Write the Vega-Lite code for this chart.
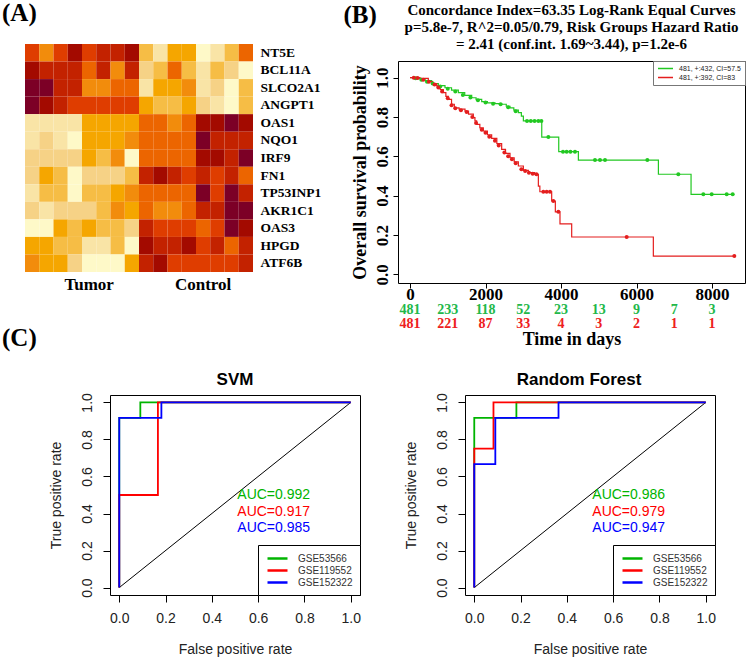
{
"$schema":"https://vega.github.io/schema/vega-lite/v6.json",
"padding":{"left":2,"top":0,"right":0,"bottom":0},
"background":"white",
"config":{"view":{"stroke":null},"axis":{"grid":false,"domain":false,"labelColor":"black","titleColor":"black","tickColor":"black","labelOverlap":false},"title":{"color":"black"}},
"datasets":{
"heat":[
{"gene":"NT5E","col":"T1","v":4},{"gene":"NT5E","col":"T2","v":6},{"gene":"NT5E","col":"T3","v":4},{"gene":"NT5E","col":"T4","v":2},{"gene":"NT5E","col":"T5","v":4},{"gene":"NT5E","col":"T6","v":3},{"gene":"NT5E","col":"T7","v":3},{"gene":"NT5E","col":"T8","v":2},{"gene":"NT5E","col":"C1","v":8},{"gene":"NT5E","col":"C2","v":10},{"gene":"NT5E","col":"C3","v":7},{"gene":"NT5E","col":"C4","v":7},{"gene":"NT5E","col":"C5","v":11},{"gene":"NT5E","col":"C6","v":10},{"gene":"NT5E","col":"C7","v":8},{"gene":"NT5E","col":"C8","v":5},
{"gene":"BCL11A","col":"T1","v":2},{"gene":"BCL11A","col":"T2","v":3},{"gene":"BCL11A","col":"T3","v":3},{"gene":"BCL11A","col":"T4","v":3},{"gene":"BCL11A","col":"T5","v":5},{"gene":"BCL11A","col":"T6","v":3},{"gene":"BCL11A","col":"T7","v":6},{"gene":"BCL11A","col":"T8","v":3},{"gene":"BCL11A","col":"C1","v":9},{"gene":"BCL11A","col":"C2","v":8},{"gene":"BCL11A","col":"C3","v":5},{"gene":"BCL11A","col":"C4","v":8},{"gene":"BCL11A","col":"C5","v":10},{"gene":"BCL11A","col":"C6","v":8},{"gene":"BCL11A","col":"C7","v":9},{"gene":"BCL11A","col":"C8","v":11},
{"gene":"SLCO2A1","col":"T1","v":1},{"gene":"SLCO2A1","col":"T2","v":1},{"gene":"SLCO2A1","col":"T3","v":3},{"gene":"SLCO2A1","col":"T4","v":3},{"gene":"SLCO2A1","col":"T5","v":6},{"gene":"SLCO2A1","col":"T6","v":6},{"gene":"SLCO2A1","col":"T7","v":5},{"gene":"SLCO2A1","col":"T8","v":5},{"gene":"SLCO2A1","col":"C1","v":10},{"gene":"SLCO2A1","col":"C2","v":7},{"gene":"SLCO2A1","col":"C3","v":7},{"gene":"SLCO2A1","col":"C4","v":6},{"gene":"SLCO2A1","col":"C5","v":10},{"gene":"SLCO2A1","col":"C6","v":9},{"gene":"SLCO2A1","col":"C7","v":11},{"gene":"SLCO2A1","col":"C8","v":8},
{"gene":"ANGPT1","col":"T1","v":1},{"gene":"ANGPT1","col":"T2","v":2},{"gene":"ANGPT1","col":"T3","v":3},{"gene":"ANGPT1","col":"T4","v":4},{"gene":"ANGPT1","col":"T5","v":4},{"gene":"ANGPT1","col":"T6","v":4},{"gene":"ANGPT1","col":"T7","v":4},{"gene":"ANGPT1","col":"T8","v":4},{"gene":"ANGPT1","col":"C1","v":7},{"gene":"ANGPT1","col":"C2","v":8},{"gene":"ANGPT1","col":"C3","v":8},{"gene":"ANGPT1","col":"C4","v":7},{"gene":"ANGPT1","col":"C5","v":9},{"gene":"ANGPT1","col":"C6","v":10},{"gene":"ANGPT1","col":"C7","v":11},{"gene":"ANGPT1","col":"C8","v":8},
{"gene":"OAS1","col":"T1","v":10},{"gene":"OAS1","col":"T2","v":10},{"gene":"OAS1","col":"T3","v":10},{"gene":"OAS1","col":"T4","v":10},{"gene":"OAS1","col":"T5","v":7},{"gene":"OAS1","col":"T6","v":7},{"gene":"OAS1","col":"T7","v":7},{"gene":"OAS1","col":"T8","v":7},{"gene":"OAS1","col":"C1","v":5},{"gene":"OAS1","col":"C2","v":5},{"gene":"OAS1","col":"C3","v":6},{"gene":"OAS1","col":"C4","v":5},{"gene":"OAS1","col":"C5","v":2},{"gene":"OAS1","col":"C6","v":2},{"gene":"OAS1","col":"C7","v":1},{"gene":"OAS1","col":"C8","v":2},
{"gene":"NQO1","col":"T1","v":10},{"gene":"NQO1","col":"T2","v":9},{"gene":"NQO1","col":"T3","v":10},{"gene":"NQO1","col":"T4","v":11},{"gene":"NQO1","col":"T5","v":7},{"gene":"NQO1","col":"T6","v":7},{"gene":"NQO1","col":"T7","v":7},{"gene":"NQO1","col":"T8","v":6},{"gene":"NQO1","col":"C1","v":5},{"gene":"NQO1","col":"C2","v":5},{"gene":"NQO1","col":"C3","v":5},{"gene":"NQO1","col":"C4","v":5},{"gene":"NQO1","col":"C5","v":1},{"gene":"NQO1","col":"C6","v":3},{"gene":"NQO1","col":"C7","v":3},{"gene":"NQO1","col":"C8","v":3},
{"gene":"IRF9","col":"T1","v":9},{"gene":"IRF9","col":"T2","v":9},{"gene":"IRF9","col":"T3","v":9},{"gene":"IRF9","col":"T4","v":9},{"gene":"IRF9","col":"T5","v":7},{"gene":"IRF9","col":"T6","v":8},{"gene":"IRF9","col":"T7","v":6},{"gene":"IRF9","col":"T8","v":11},{"gene":"IRF9","col":"C1","v":5},{"gene":"IRF9","col":"C2","v":5},{"gene":"IRF9","col":"C3","v":5},{"gene":"IRF9","col":"C4","v":5},{"gene":"IRF9","col":"C5","v":2},{"gene":"IRF9","col":"C6","v":2},{"gene":"IRF9","col":"C7","v":3},{"gene":"IRF9","col":"C8","v":1},
{"gene":"FN1","col":"T1","v":9},{"gene":"FN1","col":"T2","v":7},{"gene":"FN1","col":"T3","v":8},{"gene":"FN1","col":"T4","v":11},{"gene":"FN1","col":"T5","v":9},{"gene":"FN1","col":"T6","v":9},{"gene":"FN1","col":"T7","v":9},{"gene":"FN1","col":"T8","v":8},{"gene":"FN1","col":"C1","v":3},{"gene":"FN1","col":"C2","v":2},{"gene":"FN1","col":"C3","v":3},{"gene":"FN1","col":"C4","v":4},{"gene":"FN1","col":"C5","v":3},{"gene":"FN1","col":"C6","v":4},{"gene":"FN1","col":"C7","v":3},{"gene":"FN1","col":"C8","v":5},
{"gene":"TP53INP1","col":"T1","v":10},{"gene":"TP53INP1","col":"T2","v":8},{"gene":"TP53INP1","col":"T3","v":8},{"gene":"TP53INP1","col":"T4","v":11},{"gene":"TP53INP1","col":"T5","v":8},{"gene":"TP53INP1","col":"T6","v":8},{"gene":"TP53INP1","col":"T7","v":7},{"gene":"TP53INP1","col":"T8","v":6},{"gene":"TP53INP1","col":"C1","v":5},{"gene":"TP53INP1","col":"C2","v":5},{"gene":"TP53INP1","col":"C3","v":5},{"gene":"TP53INP1","col":"C4","v":5},{"gene":"TP53INP1","col":"C5","v":1},{"gene":"TP53INP1","col":"C6","v":4},{"gene":"TP53INP1","col":"C7","v":1},{"gene":"TP53INP1","col":"C8","v":3},
{"gene":"AKR1C1","col":"T1","v":9},{"gene":"AKR1C1","col":"T2","v":10},{"gene":"AKR1C1","col":"T3","v":9},{"gene":"AKR1C1","col":"T4","v":9},{"gene":"AKR1C1","col":"T5","v":9},{"gene":"AKR1C1","col":"T6","v":8},{"gene":"AKR1C1","col":"T7","v":6},{"gene":"AKR1C1","col":"T8","v":7},{"gene":"AKR1C1","col":"C1","v":5},{"gene":"AKR1C1","col":"C2","v":6},{"gene":"AKR1C1","col":"C3","v":6},{"gene":"AKR1C1","col":"C4","v":5},{"gene":"AKR1C1","col":"C5","v":3},{"gene":"AKR1C1","col":"C6","v":3},{"gene":"AKR1C1","col":"C7","v":1},{"gene":"AKR1C1","col":"C8","v":1},
{"gene":"OAS3","col":"T1","v":11},{"gene":"OAS3","col":"T2","v":11},{"gene":"OAS3","col":"T3","v":7},{"gene":"OAS3","col":"T4","v":8},{"gene":"OAS3","col":"T5","v":7},{"gene":"OAS3","col":"T6","v":8},{"gene":"OAS3","col":"T7","v":8},{"gene":"OAS3","col":"T8","v":9},{"gene":"OAS3","col":"C1","v":3},{"gene":"OAS3","col":"C2","v":4},{"gene":"OAS3","col":"C3","v":4},{"gene":"OAS3","col":"C4","v":4},{"gene":"OAS3","col":"C5","v":5},{"gene":"OAS3","col":"C6","v":4},{"gene":"OAS3","col":"C7","v":1},{"gene":"OAS3","col":"C8","v":2},
{"gene":"HPGD","col":"T1","v":7},{"gene":"HPGD","col":"T2","v":7},{"gene":"HPGD","col":"T3","v":8},{"gene":"HPGD","col":"T4","v":8},{"gene":"HPGD","col":"T5","v":10},{"gene":"HPGD","col":"T6","v":10},{"gene":"HPGD","col":"T7","v":8},{"gene":"HPGD","col":"T8","v":11},{"gene":"HPGD","col":"C1","v":2},{"gene":"HPGD","col":"C2","v":3},{"gene":"HPGD","col":"C3","v":3},{"gene":"HPGD","col":"C4","v":2},{"gene":"HPGD","col":"C5","v":4},{"gene":"HPGD","col":"C6","v":3},{"gene":"HPGD","col":"C7","v":5},{"gene":"HPGD","col":"C8","v":3},
{"gene":"ATF6B","col":"T1","v":6},{"gene":"ATF6B","col":"T2","v":7},{"gene":"ATF6B","col":"T3","v":7},{"gene":"ATF6B","col":"T4","v":9},{"gene":"ATF6B","col":"T5","v":11},{"gene":"ATF6B","col":"T6","v":11},{"gene":"ATF6B","col":"T7","v":11},{"gene":"ATF6B","col":"T8","v":7},{"gene":"ATF6B","col":"C1","v":3},{"gene":"ATF6B","col":"C2","v":2},{"gene":"ATF6B","col":"C3","v":4},{"gene":"ATF6B","col":"C4","v":4},{"gene":"ATF6B","col":"C5","v":4},{"gene":"ATF6B","col":"C6","v":4},{"gene":"ATF6B","col":"C7","v":4},{"gene":"ATF6B","col":"C8","v":3}
],
"km":[
{"grp":"481, +:432, CI=57.5","t":0,"s":1.0},{"grp":"481, +:432, CI=57.5","t":200,"s":0.995},{"grp":"481, +:432, CI=57.5","t":400,"s":0.985},{"grp":"481, +:432, CI=57.5","t":574,"s":0.97},{"grp":"481, +:432, CI=57.5","t":750,"s":0.96},{"grp":"481, +:432, CI=57.5","t":927,"s":0.949},{"grp":"481, +:432, CI=57.5","t":1100,"s":0.937},{"grp":"481, +:432, CI=57.5","t":1280,"s":0.924},{"grp":"481, +:432, CI=57.5","t":1450,"s":0.91},{"grp":"481, +:432, CI=57.5","t":1634,"s":0.898},{"grp":"481, +:432, CI=57.5","t":1750,"s":0.89},{"grp":"481, +:432, CI=57.5","t":1899,"s":0.878},{"grp":"481, +:432, CI=57.5","t":2050,"s":0.872},{"grp":"481, +:432, CI=57.5","t":2252,"s":0.868},{"grp":"481, +:432, CI=57.5","t":2428,"s":0.865},{"grp":"481, +:432, CI=57.5","t":2550,"s":0.855},{"grp":"481, +:432, CI=57.5","t":2649,"s":0.847},{"grp":"481, +:432, CI=57.5","t":2750,"s":0.835},{"grp":"481, +:432, CI=57.5","t":2870,"s":0.822},{"grp":"481, +:432, CI=57.5","t":2950,"s":0.805},{"grp":"481, +:432, CI=57.5","t":3003,"s":0.78},{"grp":"481, +:432, CI=57.5","t":3490,"s":0.698},{"grp":"481, +:432, CI=57.5","t":3940,"s":0.624},{"grp":"481, +:432, CI=57.5","t":4460,"s":0.581},{"grp":"481, +:432, CI=57.5","t":6580,"s":0.509},{"grp":"481, +:432, CI=57.5","t":7445,"s":0.407},{"grp":"481, +:432, CI=57.5","t":8565,"s":0.407},
{"grp":"481, +:392, CI=83","t":0,"s":1.0},{"grp":"481, +:392, CI=83","t":265,"s":0.997},{"grp":"481, +:392, CI=83","t":485,"s":0.98},{"grp":"481, +:392, CI=83","t":600,"s":0.97},{"grp":"481, +:392, CI=83","t":706,"s":0.958},{"grp":"481, +:392, CI=83","t":800,"s":0.94},{"grp":"481, +:392, CI=83","t":883,"s":0.924},{"grp":"481, +:392, CI=83","t":950,"s":0.905},{"grp":"481, +:392, CI=83","t":1015,"s":0.89},{"grp":"481, +:392, CI=83","t":1100,"s":0.865},{"grp":"481, +:392, CI=83","t":1174,"s":0.847},{"grp":"481, +:392, CI=83","t":1300,"s":0.84},{"grp":"481, +:392, CI=83","t":1457,"s":0.83},{"grp":"481, +:392, CI=83","t":1550,"s":0.815},{"grp":"481, +:392, CI=83","t":1677,"s":0.797},{"grp":"481, +:392, CI=83","t":1720,"s":0.78},{"grp":"481, +:392, CI=83","t":1765,"s":0.763},{"grp":"481, +:392, CI=83","t":1850,"s":0.745},{"grp":"481, +:392, CI=83","t":1942,"s":0.729},{"grp":"481, +:392, CI=83","t":2050,"s":0.71},{"grp":"481, +:392, CI=83","t":2163,"s":0.692},{"grp":"481, +:392, CI=83","t":2300,"s":0.665},{"grp":"481, +:392, CI=83","t":2428,"s":0.636},{"grp":"481, +:392, CI=83","t":2530,"s":0.615},{"grp":"481, +:392, CI=83","t":2649,"s":0.593},{"grp":"481, +:392, CI=83","t":2760,"s":0.572},{"grp":"481, +:392, CI=83","t":2870,"s":0.551},{"grp":"481, +:392, CI=83","t":3003,"s":0.529},{"grp":"481, +:392, CI=83","t":3135,"s":0.517},{"grp":"481, +:392, CI=83","t":3300,"s":0.509},{"grp":"481, +:392, CI=83","t":3400,"s":0.449},{"grp":"481, +:392, CI=83","t":3440,"s":0.42},{"grp":"481, +:392, CI=83","t":3753,"s":0.373},{"grp":"481, +:392, CI=83","t":3850,"s":0.318},{"grp":"481, +:392, CI=83","t":3973,"s":0.257},{"grp":"481, +:392, CI=83","t":4283,"s":0.19},{"grp":"481, +:392, CI=83","t":6446,"s":0.093},{"grp":"481, +:392, CI=83","t":8591,"s":0.093}
],
"cens":[
{"grp":"481, +:432, CI=57.5","t":150,"s":0.997},{"grp":"481, +:432, CI=57.5","t":300,"s":0.99},{"grp":"481, +:432, CI=57.5","t":450,"s":0.98},{"grp":"481, +:432, CI=57.5","t":600,"s":0.97},{"grp":"481, +:432, CI=57.5","t":800,"s":0.955},{"grp":"481, +:432, CI=57.5","t":1000,"s":0.944},{"grp":"481, +:432, CI=57.5","t":1200,"s":0.93},{"grp":"481, +:432, CI=57.5","t":1400,"s":0.912},{"grp":"481, +:432, CI=57.5","t":1600,"s":0.9},{"grp":"481, +:432, CI=57.5","t":1800,"s":0.885},{"grp":"481, +:432, CI=57.5","t":2000,"s":0.874},{"grp":"481, +:432, CI=57.5","t":2200,"s":0.868},{"grp":"481, +:432, CI=57.5","t":2400,"s":0.865},{"grp":"481, +:432, CI=57.5","t":2600,"s":0.85},{"grp":"481, +:432, CI=57.5","t":2800,"s":0.83},{"grp":"481, +:432, CI=57.5","t":3100,"s":0.78},{"grp":"481, +:432, CI=57.5","t":3200,"s":0.78},{"grp":"481, +:432, CI=57.5","t":3300,"s":0.78},{"grp":"481, +:432, CI=57.5","t":3400,"s":0.78},{"grp":"481, +:432, CI=57.5","t":3480,"s":0.78},{"grp":"481, +:432, CI=57.5","t":3665,"s":0.698},{"grp":"481, +:432, CI=57.5","t":4053,"s":0.624},{"grp":"481, +:432, CI=57.5","t":4150,"s":0.624},{"grp":"481, +:432, CI=57.5","t":4250,"s":0.624},{"grp":"481, +:432, CI=57.5","t":4370,"s":0.624},{"grp":"481, +:432, CI=57.5","t":4900,"s":0.581},{"grp":"481, +:432, CI=57.5","t":5033,"s":0.581},{"grp":"481, +:432, CI=57.5","t":5166,"s":0.581},{"grp":"481, +:432, CI=57.5","t":6287,"s":0.581},{"grp":"481, +:432, CI=57.5","t":7108,"s":0.509},{"grp":"481, +:432, CI=57.5","t":7770,"s":0.407},{"grp":"481, +:432, CI=57.5","t":7991,"s":0.407},{"grp":"481, +:432, CI=57.5","t":8389,"s":0.407},{"grp":"481, +:432, CI=57.5","t":8548,"s":0.407},
{"grp":"481, +:392, CI=83","t":100,"s":1.0},{"grp":"481, +:392, CI=83","t":200,"s":0.998},{"grp":"481, +:392, CI=83","t":350,"s":0.99},{"grp":"481, +:392, CI=83","t":500,"s":0.98},{"grp":"481, +:392, CI=83","t":650,"s":0.965},{"grp":"481, +:392, CI=83","t":750,"s":0.95},{"grp":"481, +:392, CI=83","t":850,"s":0.93},{"grp":"481, +:392, CI=83","t":1000,"s":0.895},{"grp":"481, +:392, CI=83","t":1100,"s":0.86},{"grp":"481, +:392, CI=83","t":1200,"s":0.845},{"grp":"481, +:392, CI=83","t":1350,"s":0.835},{"grp":"481, +:392, CI=83","t":1500,"s":0.825},{"grp":"481, +:392, CI=83","t":1650,"s":0.8},{"grp":"481, +:392, CI=83","t":1750,"s":0.77},{"grp":"481, +:392, CI=83","t":1900,"s":0.735},{"grp":"481, +:392, CI=83","t":2000,"s":0.72},{"grp":"481, +:392, CI=83","t":2100,"s":0.7},{"grp":"481, +:392, CI=83","t":2250,"s":0.68},{"grp":"481, +:392, CI=83","t":2350,"s":0.655},{"grp":"481, +:392, CI=83","t":2500,"s":0.62},{"grp":"481, +:392, CI=83","t":2600,"s":0.6},{"grp":"481, +:392, CI=83","t":2700,"s":0.585},{"grp":"481, +:392, CI=83","t":2800,"s":0.565},{"grp":"481, +:392, CI=83","t":2950,"s":0.535},{"grp":"481, +:392, CI=83","t":3050,"s":0.525},{"grp":"481, +:392, CI=83","t":3150,"s":0.517},{"grp":"481, +:392, CI=83","t":3250,"s":0.512},{"grp":"481, +:392, CI=83","t":3350,"s":0.509},{"grp":"481, +:392, CI=83","t":3532,"s":0.42},{"grp":"481, +:392, CI=83","t":3620,"s":0.42},{"grp":"481, +:392, CI=83","t":3709,"s":0.42},{"grp":"481, +:392, CI=83","t":3797,"s":0.373},{"grp":"481, +:392, CI=83","t":3930,"s":0.318},{"grp":"481, +:392, CI=83","t":5740,"s":0.19},{"grp":"481, +:392, CI=83","t":8591,"s":0.093}
],
"risk":[
{"grp":"481, +:432, CI=57.5","t":0,"n":481},{"grp":"481, +:432, CI=57.5","t":1000,"n":233},{"grp":"481, +:432, CI=57.5","t":2000,"n":118},{"grp":"481, +:432, CI=57.5","t":3000,"n":52},{"grp":"481, +:432, CI=57.5","t":4000,"n":23},{"grp":"481, +:432, CI=57.5","t":5000,"n":13},{"grp":"481, +:432, CI=57.5","t":6000,"n":9},{"grp":"481, +:432, CI=57.5","t":7000,"n":7},{"grp":"481, +:432, CI=57.5","t":8000,"n":3},
{"grp":"481, +:392, CI=83","t":0,"n":481},{"grp":"481, +:392, CI=83","t":1000,"n":221},{"grp":"481, +:392, CI=83","t":2000,"n":87},{"grp":"481, +:392, CI=83","t":3000,"n":33},{"grp":"481, +:392, CI=83","t":4000,"n":4},{"grp":"481, +:392, CI=83","t":5000,"n":3},{"grp":"481, +:392, CI=83","t":6000,"n":2},{"grp":"481, +:392, CI=83","t":7000,"n":1},{"grp":"481, +:392, CI=83","t":8000,"n":1}
],
"roc":[
{"model":"SVM","dataset":"GSE53566","i":0,"fpr":0,"tpr":0},{"model":"SVM","dataset":"GSE53566","i":1,"fpr":0,"tpr":0.917},{"model":"SVM","dataset":"GSE53566","i":2,"fpr":0.091,"tpr":0.917},{"model":"SVM","dataset":"GSE53566","i":3,"fpr":0.091,"tpr":1},{"model":"SVM","dataset":"GSE53566","i":4,"fpr":1,"tpr":1},
{"model":"SVM","dataset":"GSE119552","i":0,"fpr":0,"tpr":0},{"model":"SVM","dataset":"GSE119552","i":1,"fpr":0,"tpr":0.5},{"model":"SVM","dataset":"GSE119552","i":2,"fpr":0.167,"tpr":0.5},{"model":"SVM","dataset":"GSE119552","i":3,"fpr":0.167,"tpr":1},{"model":"SVM","dataset":"GSE119552","i":4,"fpr":1,"tpr":1},
{"model":"SVM","dataset":"GSE152322","i":0,"fpr":0,"tpr":0},{"model":"SVM","dataset":"GSE152322","i":1,"fpr":0,"tpr":0.917},{"model":"SVM","dataset":"GSE152322","i":2,"fpr":0.182,"tpr":0.917},{"model":"SVM","dataset":"GSE152322","i":3,"fpr":0.182,"tpr":1},{"model":"SVM","dataset":"GSE152322","i":4,"fpr":1,"tpr":1},
{"model":"RF","dataset":"GSE53566","i":0,"fpr":0,"tpr":0},{"model":"RF","dataset":"GSE53566","i":1,"fpr":0,"tpr":0.917},{"model":"RF","dataset":"GSE53566","i":2,"fpr":0.182,"tpr":0.917},{"model":"RF","dataset":"GSE53566","i":3,"fpr":0.182,"tpr":1},{"model":"RF","dataset":"GSE53566","i":4,"fpr":1,"tpr":1},
{"model":"RF","dataset":"GSE119552","i":0,"fpr":0,"tpr":0},{"model":"RF","dataset":"GSE119552","i":1,"fpr":0,"tpr":0.75},{"model":"RF","dataset":"GSE119552","i":2,"fpr":0.083,"tpr":0.75},{"model":"RF","dataset":"GSE119552","i":3,"fpr":0.083,"tpr":1},{"model":"RF","dataset":"GSE119552","i":4,"fpr":1,"tpr":1},
{"model":"RF","dataset":"GSE152322","i":0,"fpr":0,"tpr":0},{"model":"RF","dataset":"GSE152322","i":1,"fpr":0,"tpr":0.667},{"model":"RF","dataset":"GSE152322","i":2,"fpr":0.091,"tpr":0.667},{"model":"RF","dataset":"GSE152322","i":3,"fpr":0.091,"tpr":0.917},{"model":"RF","dataset":"GSE152322","i":4,"fpr":0.364,"tpr":0.917},{"model":"RF","dataset":"GSE152322","i":5,"fpr":0.364,"tpr":1},{"model":"RF","dataset":"GSE152322","i":6,"fpr":1,"tpr":1}
],
"diag":[{"fpr":0,"tpr":0},{"fpr":1,"tpr":1}],
"auc":[
{"model":"SVM","dataset":"GSE53566","label":"AUC=0.992"},{"model":"SVM","dataset":"GSE119552","label":"AUC=0.917"},{"model":"SVM","dataset":"GSE152322","label":"AUC=0.985"},
{"model":"RF","dataset":"GSE53566","label":"AUC=0.986"},{"model":"RF","dataset":"GSE119552","label":"AUC=0.979"},{"model":"RF","dataset":"GSE152322","label":"AUC=0.947"}
]
},
"concat":[
{
"concat":[
{
"width":228,"height":228,
"title":{"text":"(A)","anchor":"start","frame":"group","dx":-23,"font":"Liberation Serif","fontSize":25,"fontWeight":"bold","offset":18},
"data":{"name":"heat"},
"mark":{"type":"rect"},
"encoding":{
"x":{"field":"col","type":"ordinal","sort":["T1","T2","T3","T4","T5","T6","T7","T8","C1","C2","C3","C4","C5","C6","C7","C8"],"scale":{"paddingInner":0,"paddingOuter":0},"axis":{"title":null,"ticks":false,"domain":false,"labelAngle":0,"labelOverlap":false,"labelExpr":"datum.value == 'T5' ? 'Tumor' : datum.value == 'C5' ? 'Control' : ''","labelFont":"Liberation Serif","labelFontSize":17,"labelFontWeight":"bold","labelPadding":4,"labelDx":-4}},
"y":{"field":"gene","type":"ordinal","sort":["NT5E","BCL11A","SLCO2A1","ANGPT1","OAS1","NQO1","IRF9","FN1","TP53INP1","AKR1C1","OAS3","HPGD","ATF6B"],"scale":{"paddingInner":0,"paddingOuter":0},"axis":{"title":null,"orient":"right","ticks":false,"domain":false,"labelFont":"Liberation Serif","labelFontSize":13.5,"labelFontWeight":"bold","labelPadding":7}},
"color":{"field":"v","type":"ordinal","scale":{"domain":[1,2,3,4,5,6,7,8,9,10,11],"range":["#7C0026","#A30A00","#C32200","#DF3D00","#EC6500","#F28C0C","#F5A600","#F6BD45","#F6D286","#F9E4A6","#FEF9C8"]},"legend":null}
}
},
{
"vconcat":[
{
"width":347,"height":17,
"title":{"text":["Concordance Index=63.35 Log-Rank Equal Curves","p=5.8e-7, R^2=0.05/0.79, Risk Groups Hazard Ratio","= 2.41 (conf.int. 1.69~3.44), p=1.2e-6"],"font":"Liberation Serif","fontSize":15,"fontWeight":"bold","lineHeight":17,"anchor":"middle","offset":-8},
"data":{"values":[]},
"mark":{"type":"point"}
},
{
"width":347,"height":222,
"view":{"stroke":"black","strokeWidth":1},
"layer":[
{"data":{"name":"km"},"mark":{"type":"line","interpolate":"step-after","strokeWidth":1.2},
"encoding":{
"x":{"field":"t","type":"quantitative","scale":{"domain":[-318,8874],"nice":false,"zero":false},"axis":{"values":[0,2000,4000,6000,8000],"format":"d","title":null,"labelFont":"Liberation Serif","labelFontSize":17,"labelFontWeight":"bold","tickSize":5,"labelPadding":-2}},
"y":{"field":"s","type":"quantitative","scale":{"domain":[-0.044,1.085],"nice":false,"zero":false},"axis":{"values":[0,0.2,0.4,0.6,0.8,1],"format":".1f","labelAngle":-90,"labelAlign":"center","labelBaseline":"bottom","labelOverlap":false,"labelFont":"Liberation Serif","labelFontSize":17,"labelFontWeight":"bold","tickSize":5,"labelPadding":2,"title":"Overall survival probability","titleFont":"Liberation Serif","titleFontSize":18,"titleFontWeight":"bold","titlePadding":4}},
"color":{"field":"grp","type":"nominal","sort":["481, +:432, CI=57.5","481, +:392, CI=83"],"scale":{"domain":["481, +:432, CI=57.5","481, +:392, CI=83"],"range":["#22C822","#E41E1E"]},"legend":{"orient":"top-right","offset":0,"title":null,"strokeColor":"#777","fillColor":"white","padding":4,"labelFont":"Liberation Sans","labelFontSize":7,"labelColor":"#222","symbolType":"M-3,0L3,0","symbolSize":25,"symbolStrokeWidth":1.5,"symbolOffset":5,"rowPadding":1,"labelOffset":10}}
}},
{"data":{"name":"cens"},"mark":{"type":"circle","size":16,"opacity":1},
"encoding":{"x":{"field":"t","type":"quantitative"},"y":{"field":"s","type":"quantitative"},"color":{"field":"grp","type":"nominal"}}}
]
},
{
"width":347,"height":28,
"data":{"name":"risk"},
"mark":{"type":"text","font":"Liberation Serif","fontSize":14,"fontWeight":"bold"},
"encoding":{
"x":{"field":"t","type":"quantitative","scale":{"domain":[-318,8874],"nice":false,"zero":false},"axis":{"labels":false,"ticks":false,"domain":false,"title":"Time in days","titleFont":"Liberation Serif","titleFontSize":18,"titleFontWeight":"bold","titlePadding":-1}},
"y":{"field":"grp","type":"nominal","sort":["481, +:432, CI=57.5","481, +:392, CI=83"],"axis":null},
"text":{"field":"n","type":"quantitative"},
"color":{"field":"grp","type":"nominal","scale":{"domain":["481, +:432, CI=57.5","481, +:392, CI=83"],"range":["#22B84A","#EE2020"]},"legend":null}
}
}
],
"spacing":-6,
"title":{"text":"(B)","anchor":"start","frame":"bounds","dx":-7,"offset":-25,"font":"Liberation Serif","fontSize":25,"fontWeight":"bold"},
"resolve":{"scale":{"color":"independent","x":"independent","y":"independent"},"legend":{"color":"independent"}}
}
],
"columns":2,"align":"none","spacing":22,
"resolve":{"scale":{"color":"independent","x":"independent","y":"independent"},"legend":{"color":"independent"}}
},
{
"concat":[
{
"width":1,"height":1,
"title":{"text":"(C)","anchor":"start","frame":"group","dx":-23,"offset":44,"font":"Liberation Serif","fontSize":25,"fontWeight":"bold"},
"data":{"values":[]},
"mark":{"type":"point"}
},
{
"hconcat":[
{
"width":250,"height":200,
"title":{"text":"SVM","font":"Liberation Sans","fontSize":17,"fontWeight":"bold","offset":4},
"view":{"stroke":"black","strokeWidth":1},
"resolve":{"axis":{"x":"independent","y":"independent"}},
"layer":[
{"data":{"name":"diag"},"mark":{"type":"line","color":"black","strokeWidth":1},
"encoding":{
"x":{"field":"fpr","type":"quantitative","scale":{"domain":[-0.04,1.04],"nice":false,"zero":false},"axis":{"values":[0,0.2,0.4,0.6,0.8,1],"format":".1f","labelOverlap":false,"labelFont":"Liberation Sans","labelFontSize":14,"labelColor":"#222","tickSize":7,"labelPadding":9,"title":"False positive rate","titleFont":"Liberation Sans","titleFontSize":14,"titleFontWeight":"normal","titleColor":"#222","titlePadding":17}},
"y":{"field":"tpr","type":"quantitative","scale":{"domain":[-0.04,1.04],"nice":false,"zero":false},"axis":{"values":[0,0.2,0.4,0.6,0.8,1],"format":".1f","labelOverlap":false,"labelAngle":-90,"labelAlign":"center","labelBaseline":"bottom","labelFont":"Liberation Sans","labelFontSize":14,"labelColor":"#222","tickSize":7,"labelPadding":9,"title":"True positive rate","titleFont":"Liberation Sans","titleFontSize":14,"titleFontWeight":"normal","titleColor":"#222","titlePadding":17}}
}},
{"data":{"name":"roc"},"transform":[{"filter":{"field":"model","equal":"SVM"}}],"mark":{"type":"line","strokeWidth":1.8},
"encoding":{"x":{"field":"fpr","type":"quantitative","axis":null},"y":{"field":"tpr","type":"quantitative","axis":null},"order":{"field":"i","type":"quantitative"},
"color":{"field":"dataset","type":"nominal","scale":{"domain":["GSE53566","GSE119552","GSE152322"],"range":["#00B400","#FF0000","#0000FF"]},"legend":{"orient":"bottom-right","offset":0,"title":null,"strokeColor":"black","fillColor":"white","padding":7,"labelFont":"Liberation Sans","labelFontSize":10,"labelColor":"#333","symbolType":"M-2,0L2,0","symbolSize":100,"symbolStrokeWidth":2.5,"symbolOffset":6,"rowPadding":0,"labelOffset":14}}}},
{"data":{"name":"auc"},"transform":[{"filter":"datum.model == 'SVM' && datum.dataset == 'GSE53566'"}],"mark":{"type":"text","align":"left","baseline":"middle","font":"Liberation Sans","fontSize":14},
"encoding":{"x":{"datum":0.51,"type":"quantitative","axis":null},"y":{"datum":0.5,"type":"quantitative","axis":null},"text":{"field":"label"},"color":{"field":"dataset","type":"nominal"}}},
{"data":{"name":"auc"},"transform":[{"filter":"datum.model == 'SVM' && datum.dataset == 'GSE119552'"}],"mark":{"type":"text","align":"left","baseline":"middle","font":"Liberation Sans","fontSize":14},
"encoding":{"x":{"datum":0.51,"type":"quantitative","axis":null},"y":{"datum":0.41,"type":"quantitative","axis":null},"text":{"field":"label"},"color":{"field":"dataset","type":"nominal"}}},
{"data":{"name":"auc"},"transform":[{"filter":"datum.model == 'SVM' && datum.dataset == 'GSE152322'"}],"mark":{"type":"text","align":"left","baseline":"middle","font":"Liberation Sans","fontSize":14},
"encoding":{"x":{"datum":0.51,"type":"quantitative","axis":null},"y":{"datum":0.32,"type":"quantitative","axis":null},"text":{"field":"label"},"color":{"field":"dataset","type":"nominal"}}}
]
},
{
"width":250,"height":200,
"title":{"text":"Random Forest","font":"Liberation Sans","fontSize":17,"fontWeight":"bold","offset":4,"dx":-11},
"view":{"stroke":"black","strokeWidth":1},
"resolve":{"axis":{"x":"independent","y":"independent"}},
"layer":[
{"data":{"name":"diag"},"mark":{"type":"line","color":"black","strokeWidth":1},
"encoding":{
"x":{"field":"fpr","type":"quantitative","scale":{"domain":[-0.04,1.04],"nice":false,"zero":false},"axis":{"values":[0,0.2,0.4,0.6,0.8,1],"format":".1f","labelOverlap":false,"labelFont":"Liberation Sans","labelFontSize":14,"labelColor":"#222","tickSize":7,"labelPadding":9,"title":"False positive rate","titleFont":"Liberation Sans","titleFontSize":14,"titleFontWeight":"normal","titleColor":"#222","titlePadding":17}},
"y":{"field":"tpr","type":"quantitative","scale":{"domain":[-0.04,1.04],"nice":false,"zero":false},"axis":{"values":[0,0.2,0.4,0.6,0.8,1],"format":".1f","labelOverlap":false,"labelAngle":-90,"labelAlign":"center","labelBaseline":"bottom","labelFont":"Liberation Sans","labelFontSize":14,"labelColor":"#222","tickSize":7,"labelPadding":9,"title":"True positive rate","titleFont":"Liberation Sans","titleFontSize":14,"titleFontWeight":"normal","titleColor":"#222","titlePadding":17}}
}},
{"data":{"name":"roc"},"transform":[{"filter":{"field":"model","equal":"RF"}}],"mark":{"type":"line","strokeWidth":1.8},
"encoding":{"x":{"field":"fpr","type":"quantitative","axis":null},"y":{"field":"tpr","type":"quantitative","axis":null},"order":{"field":"i","type":"quantitative"},
"color":{"field":"dataset","type":"nominal","scale":{"domain":["GSE53566","GSE119552","GSE152322"],"range":["#00B400","#FF0000","#0000FF"]},"legend":{"orient":"bottom-right","offset":0,"title":null,"strokeColor":"black","fillColor":"white","padding":7,"labelFont":"Liberation Sans","labelFontSize":10,"labelColor":"#333","symbolType":"M-2,0L2,0","symbolSize":100,"symbolStrokeWidth":2.5,"symbolOffset":6,"rowPadding":0,"labelOffset":14}}}},
{"data":{"name":"auc"},"transform":[{"filter":"datum.model == 'RF' && datum.dataset == 'GSE53566'"}],"mark":{"type":"text","align":"left","baseline":"middle","font":"Liberation Sans","fontSize":14},
"encoding":{"x":{"datum":0.51,"type":"quantitative","axis":null},"y":{"datum":0.5,"type":"quantitative","axis":null},"text":{"field":"label"},"color":{"field":"dataset","type":"nominal"}}},
{"data":{"name":"auc"},"transform":[{"filter":"datum.model == 'RF' && datum.dataset == 'GSE119552'"}],"mark":{"type":"text","align":"left","baseline":"middle","font":"Liberation Sans","fontSize":14},
"encoding":{"x":{"datum":0.51,"type":"quantitative","axis":null},"y":{"datum":0.41,"type":"quantitative","axis":null},"text":{"field":"label"},"color":{"field":"dataset","type":"nominal"}}},
{"data":{"name":"auc"},"transform":[{"filter":"datum.model == 'RF' && datum.dataset == 'GSE152322'"}],"mark":{"type":"text","align":"left","baseline":"middle","font":"Liberation Sans","fontSize":14},
"encoding":{"x":{"datum":0.51,"type":"quantitative","axis":null},"y":{"datum":0.32,"type":"quantitative","axis":null},"text":{"field":"label"},"color":{"field":"dataset","type":"nominal"}}}
]
}
],
"spacing":42,
"resolve":{"scale":{"color":"independent","x":"independent","y":"independent"},"legend":{"color":"independent"}}
}
],
"columns":2,"align":"none","spacing":11,
"resolve":{"scale":{"color":"independent","x":"independent","y":"independent"},"legend":{"color":"independent"}}
}
],
"columns":1,"align":"none","spacing":-22,
"resolve":{"scale":{"color":"independent","x":"independent","y":"independent"},"legend":{"color":"independent"}}
}
